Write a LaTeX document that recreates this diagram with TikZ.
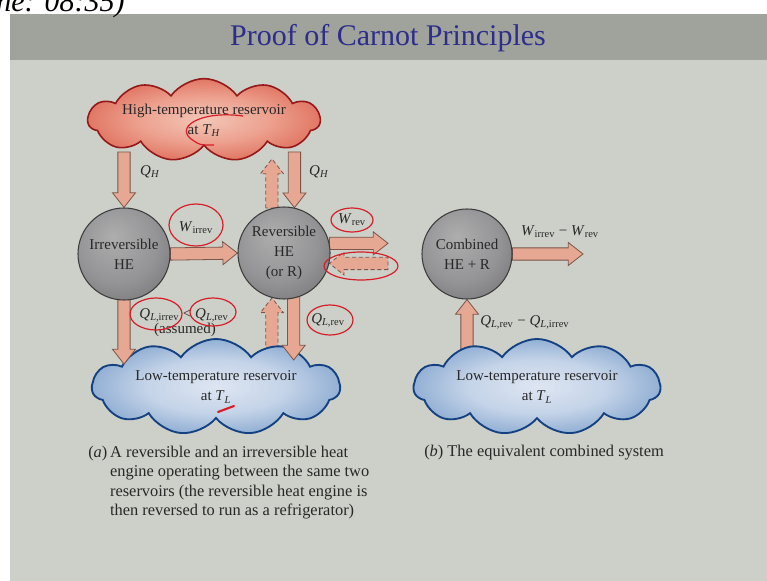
\documentclass[tikz,border=0pt]{standalone}
\usepackage{fontspec}
\setmainfont{Liberation Serif}
\usetikzlibrary{calc,shapes.symbols}
\pgfdeclarelayer{back}\pgfdeclarelayer{bg}\pgfdeclarelayer{mid}\pgfdeclarelayer{fore}
\pgfsetlayers{back,bg,main,mid,fore}
\definecolor{slidebg}{RGB}{205,208,200}
\definecolor{titlebar}{RGB}{160,163,155}
\definecolor{titleblue}{RGB}{45,45,140}
\definecolor{salmon}{RGB}{230,168,146}
\definecolor{salmonedge}{RGB}{125,85,75}
\definecolor{txt}{RGB}{40,40,40}
\definecolor{redink}{RGB}{215,30,40}
\definecolor{hotedge}{RGB}{150,25,25}
\definecolor{coldedge}{RGB}{20,65,130}
\definecolor{sphereedge}{RGB}{60,60,60}
\pgfdeclareradialshading{redcloud}{\pgfpoint{0bp}{0bp}}{rgb(0bp)=(0.95,0.78,0.72); rgb(14bp)=(0.93,0.63,0.56); rgb(28bp)=(0.87,0.42,0.35); rgb(40bp)=(0.80,0.24,0.19); rgb(50bp)=(0.72,0.13,0.10); rgb(70bp)=(0.70,0.12,0.10)}
\pgfdeclareradialshading{bluecloud}{\pgfpoint{0bp}{0bp}}{rgb(0bp)=(0.87,0.90,0.95); rgb(14bp)=(0.77,0.83,0.91); rgb(28bp)=(0.52,0.65,0.81); rgb(40bp)=(0.29,0.48,0.71); rgb(50bp)=(0.16,0.36,0.61); rgb(70bp)=(0.14,0.33,0.58)}
\pgfdeclareradialshading{sphere}{\pgfpoint{-6bp}{10bp}}{rgb(0bp)=(0.68,0.68,0.68); rgb(22bp)=(0.58,0.58,0.59); rgb(42bp)=(0.42,0.42,0.43); rgb(62bp)=(0.27,0.27,0.28)}
\newcommand\qsub[2]{\textit{#1}\textsubscript{#2}}
\newcommand\fatarrow[3][blockar]{%
  \coordinate (fah) at ($(#3)!11pt!(#2)$);
  \path[#1] ($(#2)!4.6pt!90:(#3)$) -- ($(fah)!4.6pt!90:(#3)$) -- ($(fah)!8.6pt!90:(#3)$) -- (#3)
    -- ($(fah)!8.6pt!-90:(#3)$) -- ($(fah)!4.6pt!-90:(#3)$) -- ($(#2)!4.6pt!-90:(#3)$) -- cycle;}
\tikzset{
  lbl/.style={font=\fontsize{11.25}{13}\selectfont, text=txt, inner sep=0pt},
  engine/.style={circle, shading=sphere, draw=sphereedge, line width=0.8pt, minimum size=69pt,
    inner sep=0pt, align=center, font=\fontsize{11.25}{15}\selectfont, text=txt},
  hotcloud/.style={cloud, cloud puffs=11, cloud puff arc=110, cloud ignores aspect, shading=redcloud,
    draw=hotedge, line width=1.2pt, align=center, font=\fontsize{11.25}{15}\selectfont, text=txt, inner sep=0pt},
  coldcloud/.style={cloud, cloud puffs=11, cloud puff arc=110, cloud ignores aspect, shading=bluecloud,
    draw=coldedge, line width=1.4pt, align=center, font=\fontsize{11.25}{15}\selectfont, text=txt, inner sep=0pt},
  blockar/.style={fill=salmon, draw=salmonedge, line width=0.6pt, line join=miter},
  blockdash/.style={fill=salmon, draw=salmonedge, line width=0.6pt, dashed, dash pattern=on 3pt off 2pt},
  redmark/.style={draw=redink, line width=0.9pt},
  caption/.style={font=\fontsize{12.3}{14.4}\selectfont, text=txt, inner sep=0pt, align=left},
}
\begin{document}
\begin{tikzpicture}[x=0.75pt, y=-0.75pt]
\useasboundingbox (0,0) rectangle (767,581);
\clip (0,0) rectangle (767,581);
\begin{pgfonlayer}{back}
  \fill[white] (0,0) rectangle (767,581);
  \fill[slidebg] (10,14) rectangle (767,581);
  \fill[titlebar] (10,14) rectangle (767,60);
\end{pgfonlayer}
\node[anchor=base west, font=\fontsize{22.5}{24}\selectfont\itshape, inner sep=0pt] (stamp) at (-4,12) {ne: 08:35)};
\node[font=\fontsize{22.5}{24}\selectfont, text=titleblue, inner sep=0pt] (title) at (388,38) {Proof of Carnot Principles};

% reservoirs
\node[hotcloud, minimum width=174pt, minimum height=62pt] (hot) at (204,120)
  {High-temperature reservoir\\ at \qsub{T}{\textit{H}}};
\node[coldcloud, minimum width=186pt, minimum height=72pt] (coldA) at (216,387)
  {Low-temperature reservoir\\ at \qsub{T}{\textit{L}}};
\node[coldcloud, minimum width=185pt, minimum height=72pt] (coldB) at (537,387)
  {Low-temperature reservoir\\ at \qsub{T}{\textit{L}}};

% engines
\begin{pgfonlayer}{fore}
\node[engine] (irr) at (124,254) {Irreversible\\HE};
\node[engine] (rev) at (284,253) {Reversible\\HE\\(or R)};
\node[engine, minimum size=67.5pt] (comb) at (467,254) {Combined\\HE + R};
\end{pgfonlayer}

% connector end points
\coordinate (qh1) at (irr.north |- 0,152);
\coordinate (qh2) at (rev.77.5 |- 0,152);
\coordinate (qh3) at (rev.105 |- 0,159);
\coordinate (wr1) at (rev.12 -| 388,0);
\coordinate (wr2) at (rev.-13 -| 388,0);
\coordinate (ql0) at (irr.center);
\coordinate (ql1) at (irr.south |- 0,364);
\coordinate (ql2) at (rev.255 |- 0,352);
\coordinate (ql4) at (rev.282.5 |- rev.center);
\coordinate (ql3) at (rev.282.5 |- 0,360);
\coordinate (wc) at (comb.east -| 583,0);
\coordinate (qc) at (comb.south |- 0,356);

\begin{pgfonlayer}{bg}
  \fatarrow{qh1}{irr.north}
  \fatarrow{qh2}{rev.77.5}
  \fatarrow[blockdash]{rev.105}{qh3}
  \fatarrow{irr.east}{rev.west}
  \fatarrow{rev.12}{wr1}
  \fatarrow[blockdash]{wr2}{rev.-13}
  \fatarrow[blockdash]{ql2}{rev.255}
  \fatarrow{comb.east}{wc}
  \fatarrow{qc}{comb.south}
\end{pgfonlayer}
\begin{pgfonlayer}{mid}
  \fatarrow{ql0}{ql1}
  \fatarrow{ql4}{ql3}
\end{pgfonlayer}

% labels
\node[lbl] (lqh1) at (150,172) {\qsub{Q}{\textit{H}}};
\node[lbl] (lqh2) at (319,172) {\qsub{Q}{\textit{H}}};
\node[lbl] (lwi) at (196,228) {\qsub{W}{irrev}};
\node[lbl] (lwr) at (352,220) {\qsub{W}{rev}};
\node[lbl] (lqa) at (184,315) {\qsub{Q}{\textit{L},irrev} {\textless} \qsub{Q}{\textit{L},rev}};
\node[lbl] (lass) at (185,330) {(assumed)};
\node[lbl] (lqr) at (328,320) {\qsub{Q}{\textit{L},rev}};
\node[lbl] (lwc) at (560,232) {\qsub{W}{irrev} − \qsub{W}{rev}};
\node[lbl, anchor=west] (lqc) at (480,322) {\qsub{Q}{\textit{L},rev} − \qsub{Q}{\textit{L},irrev}};

% captions
\node[caption, anchor=north west] (capa) at (88,444) {%
  \begin{tabular}{@{}l@{\,}l@{}}
  (\textit{a}) & A reversible and an irreversible heat\\
   & engine operating between the same two\\
   & reservoirs (the reversible heat engine is\\
   & then reversed to run as a refrigerator)
  \end{tabular}};
\node[caption, anchor=west] (capb) at (424,453) {(\textit{b}) The equivalent combined system};

% hand-drawn red marks
\begin{pgfonlayer}{fore}
\draw[redmark] (196,225) ellipse [x radius=27, y radius=21];
\draw[redmark] (352,220) ellipse [x radius=21, y radius=12];
\draw[redmark] (361,266) ellipse [x radius=37, y radius=14];
\draw[redmark] (156,314) ellipse [x radius=26, y radius=16];
\draw[redmark] (213,312) ellipse [x radius=23, y radius=14];
\draw[redmark] (330,320) ellipse [x radius=23, y radius=15];
\draw[redmark] (243,116) .. controls (200,110) and (172,128) .. (194,141) .. controls (200,145) .. (214,145);
\draw[redmark, line width=1.6pt, line cap=round] (218,412) -- (234,406);
\end{pgfonlayer}
\end{tikzpicture}
\end{document}
